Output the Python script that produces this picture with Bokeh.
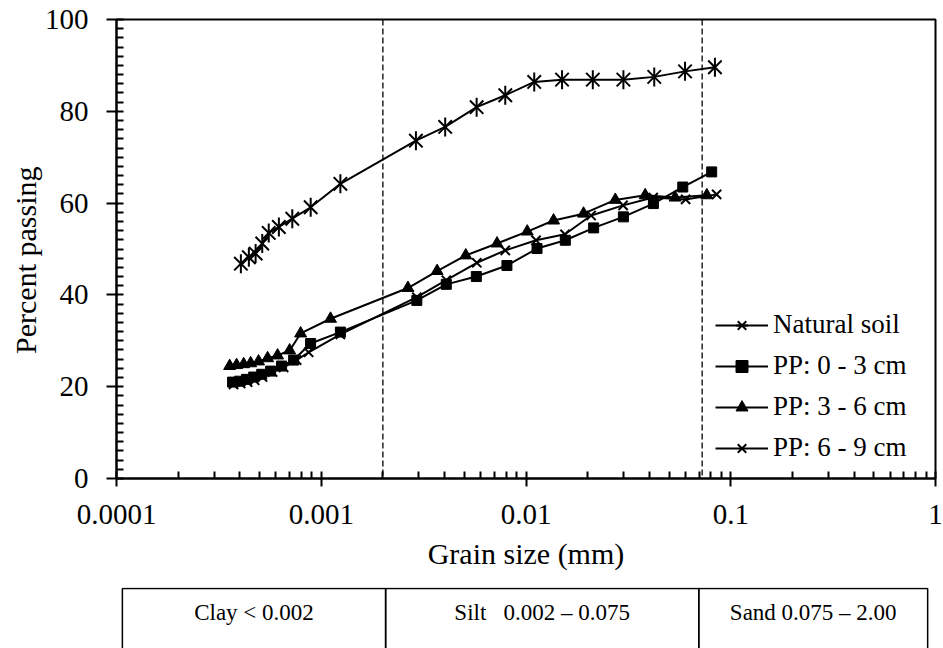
import math
from bokeh.plotting import figure
from bokeh.models import (Range1d, FixedTicker, CustomJSTickFormatter, Span,
                          Legend, LegendItem)
from bokeh.layouts import column
from bokeh.core.properties import value
from bokeh.embed import file_html
from bokeh.resources import INLINE

FONT = "Liberation Serif"

# ---------------- data ----------------
natural_size = [0.000405, 0.000443, 0.000478, 0.000515, 0.000554, 0.000621, 0.000722,
                0.000888, 0.00124, 0.0029, 0.00403, 0.00574, 0.00792, 0.01097,
                0.0150, 0.0212, 0.0299, 0.0423, 0.0598, 0.0837]
natural_pass = [46.8, 48.2, 49.0, 51.2, 53.5, 54.8, 56.6, 59.1, 64.2, 73.6, 76.6,
                80.9, 83.5, 86.4, 86.9, 86.9, 86.9, 87.5, 88.7, 89.6]

pp03_size = [0.000369, 0.000399, 0.000432, 0.000468, 0.000512, 0.000566, 0.000640,
             0.000733, 0.000887, 0.00124, 0.00293, 0.00408, 0.00572, 0.00807,
             0.01132, 0.01556, 0.0214, 0.0299, 0.0419, 0.0583, 0.0807]
pp03_pass = [21.0, 21.2, 21.6, 22.1, 22.7, 23.4, 24.5, 25.8, 29.4, 31.9, 38.8, 42.3,
             44.0, 46.4, 50.1, 51.9, 54.6, 57.0, 59.9, 63.5, 66.8]

pp36_size = [0.000357, 0.000386, 0.000418, 0.000452, 0.000494, 0.000547, 0.000612,
             0.000701, 0.000793, 0.00111, 0.00265, 0.00368, 0.00508, 0.00722,
             0.01014, 0.01363, 0.0191, 0.0273, 0.0382, 0.0535, 0.0764]
pp36_pass = [24.5, 24.7, 24.9, 25.1, 25.5, 26.2, 26.8, 27.9, 31.6, 34.8, 41.5, 45.2,
             48.6, 51.2, 53.8, 56.2, 57.7, 60.7, 61.7, 61.2, 61.7]

pp69_size = [0.000373, 0.000404, 0.000437, 0.000473, 0.000517, 0.000579, 0.000655,
             0.000758, 0.000868, 0.00124, 0.00293, 0.00408, 0.00575, 0.00792,
             0.0112, 0.0155, 0.0208, 0.0298, 0.0418, 0.0602, 0.0853]
pp69_pass = [20.5, 20.7, 21.0, 21.4, 22.1, 23.2, 24.2, 25.8, 27.5, 31.4, 39.5, 43.2,
             47.0, 49.7, 51.9, 53.2, 57.3, 59.5, 61.2, 60.8, 61.9]

series_labels = ["Natural soil", "PP: 0 - 3 cm", "PP: 3 - 6 cm", "PP: 6 - 9 cm"]

x_ticks = [0.0001, 0.001, 0.01, 0.1, 1]
y_ticks = [0, 20, 40, 60, 80, 100]

clay_limit = 0.002
silt_limit = 0.0725
table_texts = ["Clay < 0.002", "Silt\u00a0\u00a0\u00a00.002 \u2013 0.075", "Sand 0.075 \u2013 2.00"]

# ---------------- layout constants ----------------
W = 943
LEFT = 116
RIGHT = 8
TOP = 19
H1 = 587
H2 = 648 - H1

p = figure(width=W, height=H1, x_axis_type="log",
           x_range=Range1d(x_ticks[0], x_ticks[-1]), y_range=Range1d(y_ticks[0], y_ticks[-1]),
           output_backend="svg", toolbar_location=None,
           min_border_left=LEFT, min_border_right=RIGHT, min_border_top=TOP,
           min_border_bottom=H1 - 478)
p.grid.visible = False
p.outline_line_color = "black"
p.outline_line_width = 2

# classification limits
for loc in (clay_limit, silt_limit):
    p.add_layout(Span(location=loc, dimension="height", line_color="black",
                      line_width=1.3, line_dash="6 3"))

# series
items = []
l = p.line(natural_size, natural_pass, line_color="black", line_width=2)
m1 = p.scatter(natural_size, natural_pass, marker="x", size=19, line_color="black", line_width=2)
m2 = p.scatter(natural_size, natural_pass, marker="dash", angle=math.pi / 2, size=19,
               line_color="black", line_width=2)
items.append(LegendItem(label=series_labels[0], renderers=[l, m1, m2]))

l = p.line(pp03_size, pp03_pass, line_color="black", line_width=2)
m = p.scatter(pp03_size, pp03_pass, marker="square", size=10, line_color="black",
              fill_color="black", line_width=1)
items.append(LegendItem(label=series_labels[1], renderers=[l, m]))

l = p.line(pp36_size, pp36_pass, line_color="black", line_width=2)
m = p.scatter(pp36_size, pp36_pass, marker="triangle", size=12, line_color="black",
              fill_color="black", line_width=1)
items.append(LegendItem(label=series_labels[2], renderers=[l, m]))

l = p.line(pp69_size, pp69_pass, line_color="black", line_width=2)
m = p.scatter(pp69_size, pp69_pass, marker="x", size=13, line_color="black", line_width=2)
items.append(LegendItem(label=series_labels[3], renderers=[l, m]))

legend = Legend(items=items, location=(599, 15), padding=0, margin=0, spacing=10,
                glyph_width=53, glyph_height=30, label_height=30, label_standoff=5,
                label_text_font=FONT, label_text_font_size="27px",
                label_text_color="black", border_line_color=None,
                background_fill_alpha=0)
p.add_layout(legend)

# axes
minor_x = [m * 10 ** e for e in range(-4, 0) for m in range(2, 10)]
p.xaxis.ticker = FixedTicker(ticks=x_ticks, minor_ticks=minor_x)
p.xaxis.formatter = CustomJSTickFormatter(code="return tick.toString();")
p.yaxis.ticker = FixedTicker(ticks=y_ticks, minor_ticks=list(range(0, 101, 2)))

p.axis.axis_line_color = "black"
p.axis.axis_line_width = 2
p.axis.major_tick_line_color = "black"
p.axis.major_tick_line_width = 2
p.axis.minor_tick_line_color = "black"
p.axis.minor_tick_line_width = 2
p.axis.major_label_text_font = FONT
p.axis.major_label_text_font_size = "29px"
p.axis.major_label_text_color = "black"
p.axis.axis_label_text_font = FONT
p.axis.axis_label_text_font_size = "30px"
p.axis.axis_label_text_font_style = "normal"
p.axis.axis_label_text_color = "black"

p.xaxis.axis_label = "Grain size (mm)"
p.xaxis.major_tick_in = 7
p.xaxis.major_tick_out = 8
p.xaxis.minor_tick_in = 7
p.xaxis.minor_tick_out = 0
p.xaxis.major_label_standoff = 18
p.xaxis.axis_label_standoff = 10

p.yaxis.axis_label = "Percent passing\u00a0\u00a0\u00a0"
p.yaxis.major_tick_in = 0
p.yaxis.major_tick_out = 10
p.yaxis.minor_tick_in = 7
p.yaxis.minor_tick_out = 0
p.yaxis.major_label_standoff = 18
p.yaxis.axis_label_standoff = 0

# ---------------- classification table ----------------
decade_px = (W - LEFT - RIGHT) / math.log10(x_ticks[-1] / x_ticks[0])
LEFT2 = LEFT - 8
x2_start = x_ticks[0] * 10 ** (-(LEFT - LEFT2) / decade_px)
x2_end = x_ticks[-1] * 10 ** (RIGHT / decade_px)
t_left = x_ticks[0] * 10 ** (-2 / decade_px)
t_right = x_ticks[-1]

p2 = figure(width=W, height=H2, x_axis_type="log", x_range=Range1d(x2_start, x2_end),
            y_range=Range1d(0, 1), output_backend="svg", toolbar_location=None,
            x_axis_location=None, y_axis_location=None,
            min_border_left=LEFT2, min_border_right=0, min_border_top=0, min_border_bottom=0)
p2.grid.visible = False
p2.outline_line_color = None

lefts = [t_left, clay_limit, silt_limit]
rights = [clay_limit, silt_limit, t_right]
p2.quad(left=lefts, right=rights, bottom=[-1] * 3, top=[0.985] * 3,
        fill_color=None, line_color="black", line_width=1.5)
centers = [math.sqrt(a * b) for a, b in zip(lefts, rights)]
p2.text(x=centers, y=[0.59] * 3, text=table_texts, text_align="center",
        text_baseline="middle", text_font=value(FONT), text_font_size="23px",
        text_color="black")

layout = column(p, p2, spacing=0)
open("out.html", "w").write(file_html(layout, INLINE))
